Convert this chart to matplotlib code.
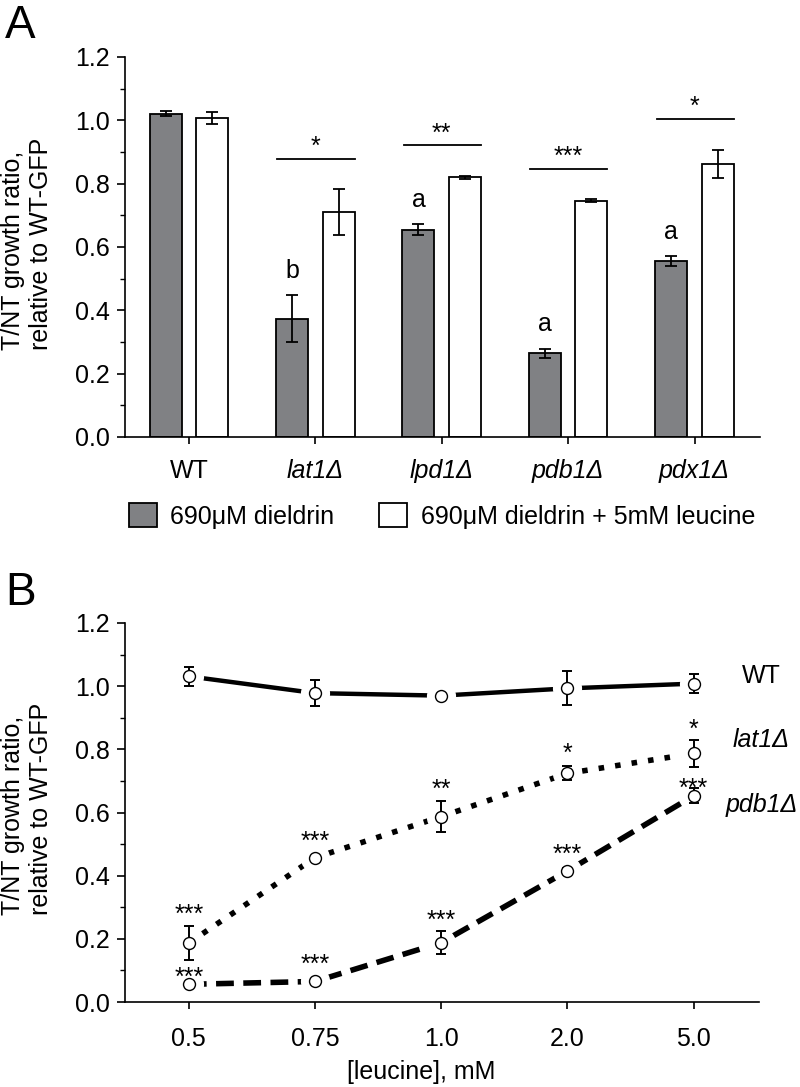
import numpy as np
import matplotlib
matplotlib.use("Agg")
import matplotlib.pyplot as plt
from matplotlib.ticker import MultipleLocator

plt.rcParams['font.family'] = ['Liberation Sans', 'DejaVu Sans']

# ---- panel A data ----
strains = ['WT', 'lat1\u0394', 'lpd1\u0394', 'pdb1\u0394', 'pdx1\u0394']
dieldrin = [1.021, 0.373, 0.655, 0.265, 0.555]
dieldrin_err = [0.007, 0.074, 0.017, 0.014, 0.016]
leucine = [1.007, 0.710, 0.820, 0.746, 0.863]
leucine_err = [0.018, 0.072, 0.004, 0.004, 0.044]
letters = ['', 'b', 'a', 'a', 'a']
pair_stars = ['', '*', '**', '***', '*']

# ---- panel B data ----
conc_labels = ['0.5', '0.75', '1.0', '2.0', '5.0']
wt = [1.031, 0.978, 0.970, 0.993, 1.008]
wt_err = [0.031, 0.040, 0.0, 0.054, 0.030]
lat1 = [0.187, 0.457, 0.587, 0.724, 0.787]
lat1_err = [0.055, 0.0, 0.048, 0.022, 0.042]
pdb1 = [0.056, 0.065, 0.188, 0.415, 0.653]
pdb1_err = [0.0, 0.0, 0.036, 0.010, 0.024]
lat1_stars = ['***', '***', '**', '*', '*']
lat1_star_y = [0.30, 0.53, 0.695, 0.807, 0.885]
pdb1_stars = ['***', '***', '***', '***', '***']
pdb1_star_y = [0.098, 0.14, 0.28, 0.49, 0.698]

FS = 18
GRAY = '#808184'
W, H = 800, 1087

fig = plt.figure(figsize=(W / 100, H / 100), dpi=100)


def style_axes(ax, xpad):
    ax.spines['top'].set_visible(False)
    ax.spines['right'].set_visible(False)
    for s in ('left', 'bottom'):
        ax.spines[s].set_linewidth(1.2)
    ax.set_ylim(0, 1.2)
    ax.yaxis.set_major_locator(MultipleLocator(0.2))
    ax.yaxis.set_minor_locator(MultipleLocator(0.1))
    ax.yaxis.set_major_formatter(plt.FuncFormatter(lambda v, p: '%.1f' % v))
    ax.tick_params(axis='y', which='major', direction='out', length=6,
                   width=1.2, labelsize=FS, pad=5)
    ax.tick_params(axis='y', which='minor', direction='out', length=3.5,
                   width=1.0)
    ax.tick_params(axis='x', which='major', direction='out', length=5,
                   width=1.2, labelsize=FS, pad=xpad)
    ax.set_xlim(-0.506, 4.518)
    ax.set_xticks(np.arange(5))


# ---------------- panel A ----------------
axA = fig.add_axes([125 / W, 1 - 437 / H, 635 / W, 380 / H])
style_axes(axA, 11)
x = np.arange(len(strains))
off, bw = 0.184, 0.253
b1 = axA.bar(x - off, dieldrin, bw, color=GRAY, edgecolor='black',
             linewidth=1.3, label='690\u03bcM dieldrin', zorder=2)
b2 = axA.bar(x + off, leucine, bw, color='white', edgecolor='black',
             linewidth=1.3, label='690\u03bcM dieldrin + 5mM leucine',
             zorder=2)
axA.errorbar(x - off, dieldrin, yerr=dieldrin_err, fmt='none',
             ecolor='black', elinewidth=1.3, capsize=4, capthick=1.3,
             zorder=3)
axA.errorbar(x + off, leucine, yerr=leucine_err, fmt='none',
             ecolor='black', elinewidth=1.3, capsize=4, capthick=1.3,
             zorder=3)
axA.set_xticklabels(strains)
for i, lab in enumerate(axA.get_xticklabels()):
    if i > 0:
        lab.set_style('italic')

for i in range(len(strains)):
    if letters[i]:
        axA.text(x[i] - off, dieldrin[i] + dieldrin_err[i] + 0.055,
                 letters[i], ha='center', va='baseline', fontsize=FS)
    if pair_stars[i]:
        top = max(dieldrin[i] + dieldrin_err[i], leucine[i] + leucine_err[i])
        ly = top + 0.097
        axA.plot([x[i] - 0.30, x[i] + 0.31], [ly, ly], color='black',
                 lw=1.3, clip_on=False)
        axA.text(x[i], ly + 0.06 - 0.045, pair_stars[i], ha='center',
                 va='baseline', fontsize=FS)

fig.legend(handles=[b1, b2], loc='center left',
           bbox_to_anchor=(129 / W, 1 - 516 / H), ncol=2, frameon=False,
           fontsize=FS, handlelength=1.1, handleheight=1.1,
           handletextpad=0.55, columnspacing=1.8, borderpad=0,
           borderaxespad=0)

fig.text(5 / W, 1 - 38 / H, 'A', fontsize=33, va='baseline')
fig.text(27 / W, 1 - 350 / H, 'T/NT growth ratio,\nrelative to WT-GFP',
         rotation=90, ha='center', va='bottom', multialignment='left',
         fontsize=FS, linespacing=1.2)

# ---------------- panel B ----------------
axB = fig.add_axes([125 / W, 1 - 1002 / H, 634 / W, 379 / H])
style_axes(axB, 13)
axB.set_xticklabels(conc_labels)
xs = np.arange(len(conc_labels))

series = [
    (wt, wt_err, '-', 3.2),
    (lat1, lat1_err, (0, (1, 2.0)), 4.0),
    (pdb1, pdb1_err, (0, (3.2, 1.7)), 4.0),
]
for vals, errs, ls, lw in series:
    axB.plot(xs, vals, color='black', lw=lw, linestyle=ls,
             dash_capstyle='butt', zorder=2, clip_on=False)
    axB.plot(xs, vals, 'o', ms=20, mfc='white', mec='white', zorder=3,
             clip_on=False)
    e = np.array(errs)
    axB.errorbar(xs[e > 0], np.array(vals)[e > 0], yerr=e[e > 0],
                 fmt='none', ecolor='black', elinewidth=1.4, capsize=3.5,
                 capthick=1.4, zorder=4)
    axB.plot(xs, vals, 'o', ms=8.6, mfc='white', mec='black', mew=1.0,
             zorder=5, clip_on=False)

for i in range(len(conc_labels)):
    axB.text(xs[i], lat1_star_y[i] - 0.045, lat1_stars[i], ha='center',
             va='baseline', fontsize=FS, zorder=6)
    axB.text(xs[i], pdb1_star_y[i] - 0.045, pdb1_stars[i], ha='center',
             va='baseline', fontsize=FS, zorder=6)

lx = 4.538
axB.text(lx, 1.011, 'WT', ha='center', va='baseline', fontsize=FS,
         clip_on=False)
axB.text(lx, 0.808, 'lat1\u0394', ha='center', va='baseline', fontsize=FS,
         style='italic', clip_on=False)
axB.text(lx, 0.602, 'pdb1\u0394', ha='center', va='baseline', fontsize=FS,
         style='italic', clip_on=False)

fig.text(421 / W, 1 - 1072 / H, '[leucine], mM', ha='center', va='center',
         fontsize=FS)
fig.text(5 / W, 1 - 605 / H, 'B', fontsize=33, va='baseline')
fig.text(27 / W, 1 - 915 / H, 'T/NT growth ratio,\nrelative to WT-GFP',
         rotation=90, ha='center', va='bottom', multialignment='left',
         fontsize=FS, linespacing=1.2)

fig.savefig('out.png', dpi=100)
